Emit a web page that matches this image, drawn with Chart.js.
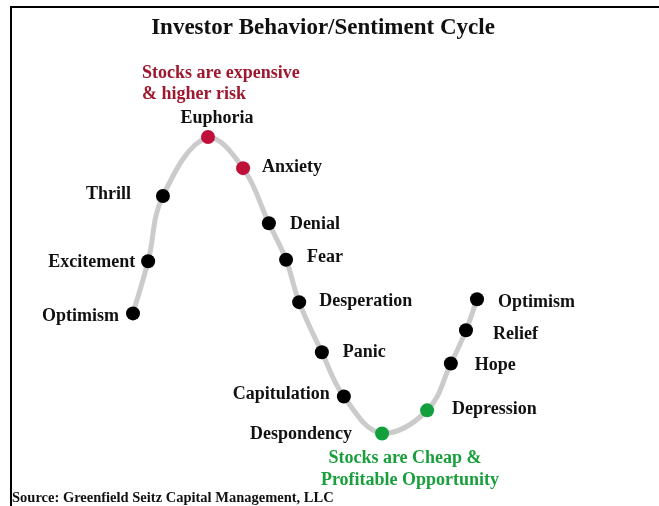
<!DOCTYPE html>
<html>
<head>
<meta charset="utf-8">
<script src="https://cdn.jsdelivr.net/npm/chart.js@4/dist/chart.umd.min.js"></script>
<style>
	html, body { margin: 0; padding: 0; background: #fff; }
	#chart { display: block; }
</style>
</head>
<body>
<canvas id="chart" width="659" height="506"></canvas>
<script>
// stages of the cycle, in order along the curve
const stages = ['Optimism', 'Excitement', 'Thrill', 'Euphoria', 'Anxiety', 'Denial', 'Fear', 'Desperation', 'Panic', 'Capitulation', 'Despondency', 'Depression', 'Hope', 'Relief', 'Optimism'];
// position along the cycle (0 - 100)
const phase = [0, 4.4, 8.7, 21.8, 32.0, 39.5, 44.5, 48.3, 54.9, 61.3, 72.4, 85.5, 92.4, 96.8, 100];
// sentiment level (0 - 100)
const sentiment = [40.5, 58.1, 80.1, 100, 89.5, 70.9, 58.6, 44.3, 27.4, 12.5, 0, 7.8, 23.6, 34.8, 45.3];
// which zone each stage belongs to
const zone = ['neutral', 'neutral', 'neutral', 'risk', 'risk', 'neutral', 'neutral', 'neutral', 'neutral', 'neutral', 'opportunity', 'opportunity', 'neutral', 'neutral', 'neutral'];

const titleText = 'Investor Behavior/Sentiment Cycle';
const riskNote = ['Stocks are expensive', '& higher risk'];
const cheapNote = ['Stocks are Cheap &', 'Profitable Opportunity'];
const sourceText = 'Source: Greenfield Seitz Capital Management, LLC';

const zoneColors = {
	neutral: '#000000',
	risk: '#c0103a',
	opportunity: '#12a03c'
};

// label placement next to each dot: side, dx, dy
const labelPlace = [
	['left', 14, 3], ['left', 13, 1], ['left', 32, -2], ['top', 9, -19], ['right', 19, -1],
	['right', 21, 1], ['right', 21, -2], ['right', 20, -1], ['right', 21, 0], ['left', 14, -2],
	['left', 30, 1], ['right', 25, -1], ['right', 24, 2], ['right', 27, 4], ['right', 21, 3]
];

const serif = '"Liberation Serif", "Times New Roman", serif';

const textPlugin = {
	id: 'textPlugin',
	beforeDraw(chart) {
		const ctx = chart.ctx;
		ctx.save();
		ctx.fillStyle = '#fff';
		ctx.fillRect(0, 0, chart.width, chart.height);
		// frame
		ctx.strokeStyle = '#000';
		ctx.lineWidth = 2;
		ctx.beginPath();
		ctx.moveTo(11, 506);
		ctx.lineTo(11, 7);
		ctx.lineTo(659, 7);
		ctx.stroke();
		ctx.restore();
	},
	afterDatasetsDraw(chart) {
		const ctx = chart.ctx;
		const meta = chart.getDatasetMeta(0);
		ctx.save();

		ctx.fillStyle = '#111';
		ctx.font = 'bold 23px ' + serif;
		ctx.textAlign = 'center';
		ctx.textBaseline = 'alphabetic';
		ctx.fillText(titleText, 323, 34);

		ctx.fillStyle = '#9e1830';
		ctx.font = 'bold 18px ' + serif;
		ctx.textAlign = 'left';
		ctx.fillText(riskNote[0], 142, 78);
		ctx.fillText(riskNote[1], 142, 99);

		ctx.fillStyle = '#1a9f3c';
		ctx.textAlign = 'center';
		ctx.fillText(cheapNote[0], 405, 463);
		ctx.fillText(cheapNote[1], 410, 485);

		ctx.fillStyle = '#111';
		ctx.font = 'bold 14.5px ' + serif;
		ctx.textAlign = 'left';
		ctx.fillText(sourceText, 12, 502);

		ctx.font = 'bold 18px ' + serif;
		ctx.textBaseline = 'middle';
		meta.data.forEach((pt, i) => {
			const [side, dx, dy] = labelPlace[i];
			if (side === 'left') {
				ctx.textAlign = 'right';
				ctx.fillText(stages[i], pt.x - dx, pt.y + dy);
			} else if (side === 'right') {
				ctx.textAlign = 'left';
				ctx.fillText(stages[i], pt.x + dx, pt.y + dy);
			} else {
				ctx.textAlign = 'center';
				ctx.fillText(stages[i], pt.x + dx, pt.y + dy);
			}
		});
		ctx.restore();
	}
};

const points = phase.map((x, i) => ({ x: x, y: sentiment[i] }));

new Chart(document.getElementById('chart').getContext('2d'), {
	type: 'line',
	data: {
		datasets: [
			{
				data: points,
				borderColor: '#cbcbcb',
				borderWidth: 5,
				tension: 0.4,
				pointRadius: 7,
				pointBorderWidth: 0,
				pointBackgroundColor: zone.map((z) => zoneColors[z]),
				clip: false
			}
		]
	},
	options: {
		responsive: false,
		animation: false,
		layout: {
			padding: { left: 133, right: 182, top: 137, bottom: 72.5 }
		},
		scales: {
			x: { type: 'linear', min: 0, max: 100, display: false },
			y: { type: 'linear', min: 0, max: 100, display: false }
		},
		plugins: {
			legend: { display: false },
			tooltip: { enabled: false }
		}
	},
	plugins: [textPlugin]
});
</script>
</body>
</html>
